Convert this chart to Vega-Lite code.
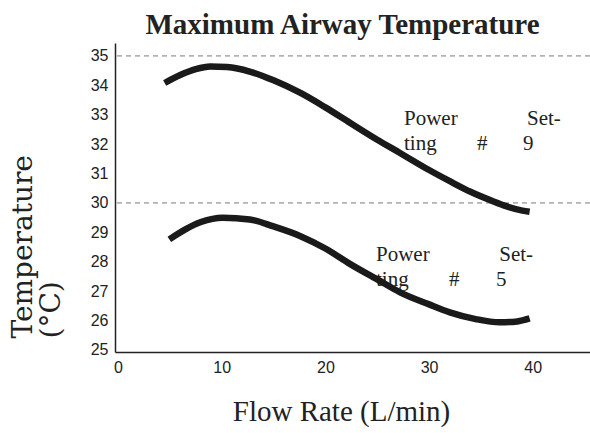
{
  "$schema": "https://vega.github.io/schema/vega-lite/v6.json",
  "width": 475,
  "height": 309,
  "autosize": "none",
  "padding": {"left": 115, "top": 43, "right": 0, "bottom": 81},
  "background": "white",
  "title": {
    "text": "Maximum Airway Temperature",
    "font": "Liberation Serif",
    "fontWeight": "bold",
    "fontSize": 29,
    "color": "#222222",
    "anchor": "middle",
    "frame": "group",
    "baseline": "alphabetic",
    "offset": 10,
    "dx": -10,
    "dy": 30
  },
  "config": {
    "view": {"stroke": null},
    "axis": {
      "domainColor": "#222222",
      "domainWidth": 1.5,
      "ticks": false,
      "tickSize": 0,
      "grid": false,
      "labelFont": "Liberation Sans",
      "labelFontSize": 16,
      "labelColor": "#222222",
      "labelOverlap": false,
      "labelBound": false,
      "labelFlush": false,
      "titleFont": "Liberation Serif",
      "titleFontWeight": "normal",
      "titleColor": "#222222"
    }
  },
  "datasets": {
    "refs": [{"temp": 30}, {"temp": 35}],
    "curves": [
      {"setting": "9", "flow": 4.5, "temp": 34.08},
      {"setting": "9", "flow": 6.0, "temp": 34.35},
      {"setting": "9", "flow": 7.5, "temp": 34.55},
      {"setting": "9", "flow": 8.9, "temp": 34.64},
      {"setting": "9", "flow": 10.5, "temp": 34.62},
      {"setting": "9", "flow": 12.7, "temp": 34.47},
      {"setting": "9", "flow": 15.0, "temp": 34.17},
      {"setting": "9", "flow": 17.6, "temp": 33.74},
      {"setting": "9", "flow": 20.0, "temp": 33.25},
      {"setting": "9", "flow": 22.4, "temp": 32.72},
      {"setting": "9", "flow": 25.0, "temp": 32.15},
      {"setting": "9", "flow": 27.2, "temp": 31.70},
      {"setting": "9", "flow": 30.0, "temp": 31.12},
      {"setting": "9", "flow": 32.0, "temp": 30.74},
      {"setting": "9", "flow": 34.0, "temp": 30.38},
      {"setting": "9", "flow": 36.0, "temp": 30.08},
      {"setting": "9", "flow": 37.5, "temp": 29.88},
      {"setting": "9", "flow": 39.0, "temp": 29.74},
      {"setting": "9", "flow": 39.7, "temp": 29.70},
      {"setting": "5", "flow": 4.95, "temp": 28.76},
      {"setting": "5", "flow": 6.5, "temp": 29.10},
      {"setting": "5", "flow": 8.0, "temp": 29.35},
      {"setting": "5", "flow": 10.1, "temp": 29.50},
      {"setting": "5", "flow": 12.7, "temp": 29.44},
      {"setting": "5", "flow": 15.0, "temp": 29.20},
      {"setting": "5", "flow": 17.6, "temp": 28.87},
      {"setting": "5", "flow": 20.0, "temp": 28.45},
      {"setting": "5", "flow": 22.4, "temp": 27.92},
      {"setting": "5", "flow": 25.0, "temp": 27.40},
      {"setting": "5", "flow": 27.2, "temp": 26.96},
      {"setting": "5", "flow": 30.0, "temp": 26.55},
      {"setting": "5", "flow": 32.0, "temp": 26.28},
      {"setting": "5", "flow": 34.5, "temp": 26.05},
      {"setting": "5", "flow": 36.8, "temp": 25.94},
      {"setting": "5", "flow": 38.5, "temp": 25.97},
      {"setting": "5", "flow": 39.7, "temp": 26.07}
    ],
    "labels": [
      {"word": "Power", "flow": 27.58, "temp": 32.66},
      {"word": "Set-", "flow": 39.44, "temp": 32.66},
      {"word": "ting", "flow": 27.58, "temp": 31.81},
      {"word": "#", "flow": 34.62, "temp": 31.81},
      {"word": "9", "flow": 39.05, "temp": 31.81},
      {"word": "Power", "flow": 24.88, "temp": 28.01},
      {"word": "Set-", "flow": 36.77, "temp": 28.01},
      {"word": "ting", "flow": 24.88, "temp": 27.18},
      {"word": "#", "flow": 31.92, "temp": 27.18},
      {"word": "5", "flow": 36.45, "temp": 27.18}
    ]
  },
  "encoding": {
    "x": {
      "field": "flow",
      "type": "quantitative",
      "scale": {"domain": [-0.29, 45.52], "nice": false, "zero": false},
      "axis": {
        "values": [0, 10, 20, 30, 40],
        "labelPadding": 7,
        "title": "Flow Rate (L/min)",
        "titleFontSize": 29,
        "titleX": 226,
        "titleY": 68,
        "titleAlign": "center",
        "titleBaseline": "alphabetic"
      }
    },
    "y": {
      "field": "temp",
      "type": "quantitative",
      "scale": {"domain": [24.93, 35.44], "nice": false, "zero": false},
      "axis": {
        "values": [25, 26, 27, 28, 29, 30, 31, 32, 33, 34, 35],
        "labelPadding": 7,
        "title": ["Temperature", "(°C)"],
        "titleFont": "DejaVu Serif",
        "titleFontSize": 28,
        "titleLineHeight": 28,
        "titleAngle": 270,
        "titleAlign": "left",
        "titleBaseline": "alphabetic",
        "titleX": -84,
        "titleY": 295
      }
    }
  },
  "layer": [
    {
      "data": {"name": "refs"},
      "mark": {"type": "rule", "color": "#7a7a7a", "strokeWidth": 1, "strokeDash": [5, 4]},
      "encoding": {"x": null}
    },
    {
      "data": {"name": "labels"},
      "mark": {
        "type": "text",
        "font": "Liberation Serif",
        "fontSize": 21,
        "align": "left",
        "baseline": "alphabetic",
        "color": "#222222"
      },
      "encoding": {"text": {"field": "word"}}
    },
    {
      "data": {"name": "curves"},
      "mark": {
        "type": "line",
        "color": "#1a1a1a",
        "strokeWidth": 6.5,
        "strokeCap": "butt",
        "interpolate": "monotone"
      },
      "encoding": {"detail": {"field": "setting"}}
    }
  ]
}
